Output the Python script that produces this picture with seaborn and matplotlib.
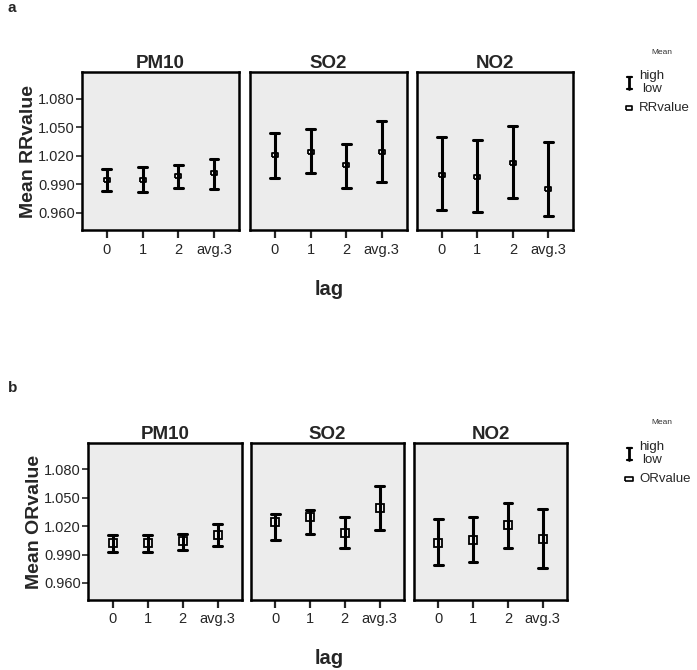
import numpy as np
import pandas as pd
import matplotlib
matplotlib.use('Agg')
import matplotlib.pyplot as plt
import seaborn as sns
from matplotlib.lines import Line2D

# categories
lags = ["0", "1", "2", "avg.3"]
pollutants = ["PM10", "SO2", "NO2"]

# panel a: RR value with 95% limits, one list per pollutant (PM10, SO2, NO2)
rr_mean = [[0.995, 0.995, 0.999, 1.0015],
           [1.0204, 1.0243, 1.0099, 1.024],
           [1.0001, 0.998, 1.0127, 0.9847]]
rr_low = [[0.9826, 0.982, 0.986, 0.9854],
          [0.9967, 1.0019, 0.9861, 0.9928],
          [0.9626, 0.9605, 0.9752, 0.9563]]
rr_high = [[1.0064, 1.0085, 1.0099, 1.0162],
           [1.0443, 1.0485, 1.0327, 1.0566],
           [1.0393, 1.0369, 1.0516, 1.0348]]

# panel b: OR value
or_mean = [[1.0023, 1.0027, 1.0041, 1.0112],
           [1.0243, 1.0293, 1.013, 1.0392],
           [1.0027, 1.0059, 1.0211, 1.0069]]
or_low = [[0.9924, 0.9924, 0.9945, 0.9995],
          [1.0055, 1.0119, 0.997, 1.0162],
          [0.9786, 0.9821, 0.997, 0.9754]]
or_high = [[1.0112, 1.0112, 1.0123, 1.0222],
           [1.0325, 1.0367, 1.030, 1.0623],
           [1.0272, 1.030, 1.0445, 1.0382]]

yticks = [0.960, 0.990, 1.020, 1.050, 1.080]

sns.set_style("white")
plt.rcParams['font.family'] = ['Liberation Sans', 'DejaVu Sans']

W, H = 697, 670
fig = plt.figure(figsize=(W / 100, H / 100), dpi=100)

# wide rectangle marker for panel a, square for panel b
flat_rect = [(-1, -0.5), (1, -0.5), (1, 0.5), (-1, 0.5), (-1, -0.5)]
face = "#f4f4f4"


def fx(x):
    return x / W


def fy(y):
    return 1 - y / H


def long_table(mean, low, high):
    rows = []
    for p, pol in enumerate(pollutants):
        for i, lag in enumerate(lags):
            for v in (low[p][i], mean[p][i], high[p][i]):
                rows.append({"pollutant": pol, "lag": lag, "value": v})
    return pd.DataFrame(rows)


def draw_legend(top, label, marker, msize):
    # top = pixel y of the "Mean" title
    fig.text(fx(662), fy(top), "Mean", fontsize=6, color="#333333", ha="center", va="center")
    x0 = fx(629)
    y1, y2 = fy(top + 25), fy(top + 37)
    fig.add_artist(Line2D([x0, x0], [y1, y2], color="black", lw=2, transform=fig.transFigure))
    for yy in (y1, y2):
        fig.add_artist(Line2D([x0 - 2.5 / W, x0 + 2.5 / W], [yy, yy], color="black", lw=1.6,
                              transform=fig.transFigure))
    fig.text(fx(652), fy(top + 24), "high", fontsize=9.5, ha="center", va="center")
    fig.text(fx(652), fy(top + 37), "low", fontsize=9.5, ha="center", va="center")
    fig.add_artist(Line2D([x0], [fy(top + 56)], color="black", marker=marker, markersize=msize,
                          markerfacecolor=face, markeredgewidth=1.2, linestyle="none",
                          transform=fig.transFigure))
    fig.text(fx(639), fy(top + 56), label, fontsize=9.5, ha="left", va="center")


def draw_panel(df, lefts, widths, bottom, height, ylab, marker, msize):
    for k, pol in enumerate(pollutants):
        ax = fig.add_axes([lefts[k], bottom, widths[k], height])
        ax.set_facecolor("#ececec")
        sub = df[df["pollutant"] == pol]
        sns.pointplot(data=sub, x="lag", y="value", order=lags, ax=ax,
                      estimator="median", errorbar=lambda v: (v.min(), v.max()),
                      color="black", linestyle="none", marker=marker,
                      markersize=msize, markerfacecolor=face,
                      markeredgecolor="black", markeredgewidth=1.3,
                      capsize=0.25, err_kws={"linewidth": 2.2}, zorder=5)
        ax.set_xlim(-0.7, 3.7)
        ax.set_ylim(0.942, 1.108)
        ax.set_xlabel("")
        ax.set_ylabel("")
        ax.set_title(pol, fontsize=13.5, fontweight="bold", pad=3)
        for s in ax.spines.values():
            s.set_color("black")
            s.set_linewidth(1.8)
        ax.tick_params(axis="x", bottom=True, length=6, width=1.6, labelsize=10.5, pad=3)
        if k == 0:
            ax.set_yticks(yticks)
            ax.set_yticklabels([f"{t:.3f}" for t in yticks])
            ax.tick_params(axis="y", left=True, length=4, width=1.2, labelsize=10.5, pad=1)
            ax.set_ylabel(ylab, fontsize=14, fontweight="bold", labelpad=1)
        else:
            ax.set_yticks([])


df_a = long_table(rr_mean, rr_low, rr_high)
df_b = long_table(or_mean, or_low, or_high)

draw_panel(df_a, [0.1176, 0.3587, 0.5978], [0.2253, 0.2248, 0.2248], 0.6567, 0.2358,
           "Mean RRvalue", flat_rect, 5)
draw_panel(df_b, [0.1263, 0.360, 0.594], [0.221, 0.2195, 0.2195], 0.1045, 0.2343,
           "Mean ORvalue", "s", 5.5)

draw_legend(52, "RRvalue", flat_rect, 5)
draw_legend(423, "ORvalue", flat_rect, 6)

fig.text(fx(8), fy(8), "a", fontsize=11, fontweight="bold", ha="left", va="center")
fig.text(fx(8), fy(388), "b", fontsize=11, fontweight="bold", ha="left", va="center")
fig.text(fx(329), fy(289), "lag", fontsize=14.5, fontweight="bold", ha="center", va="center")
fig.text(fx(329), fy(658), "lag", fontsize=14.5, fontweight="bold", ha="center", va="center")

fig.savefig("out.png", dpi=100)
